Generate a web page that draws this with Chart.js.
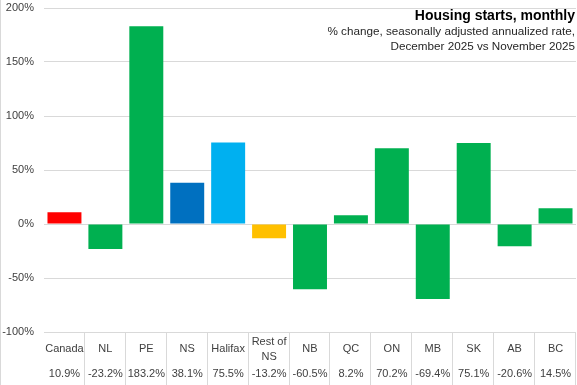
<!DOCTYPE html>
<html>
<head>
<meta charset="utf-8">
<script src="https://cdn.jsdelivr.net/npm/chart.js@4/dist/chart.umd.min.js"></script>
<style>
html,body{margin:0;padding:0;background:#fff;}
#wrap{position:relative;width:577px;height:385px;}
</style>
</head>
<body>
<div id="wrap"><canvas id="c" width="577" height="385"></canvas></div>
<script>
const categories = ["Canada","NL","PE","NS","Halifax","Rest of NS","NB","QC","ON","MB","SK","AB","BC"];
const categoryLines = [["Canada"],["NL"],["PE"],["NS"],["Halifax"],["Rest of","NS"],["NB"],["QC"],["ON"],["MB"],["SK"],["AB"],["BC"]];
const values = [10.9,-23.2,183.2,38.1,75.5,-13.2,-60.5,8.2,70.2,-69.4,75.1,-20.6,14.5];
const valueLabels = ["10.9%","-23.2%","183.2%","38.1%","75.5%","-13.2%","-60.5%","8.2%","70.2%","-69.4%","75.1%","-20.6%","14.5%"];
const barColors = ["#FF0000","#00B050","#00B050","#0070C0","#00B0F0","#FFC000","#00B050","#00B050","#00B050","#00B050","#00B050","#00B050","#00B050"];
const titleText = "Housing starts, monthly";
const subtitleLines = ["% change, seasonally adjusted annualized rate,","December 2025 vs November 2025"];

const FONT = "'Liberation Sans', Arial, sans-serif";

const tablePlugin = {
  id: 'tablePlugin',
  afterDraw(chart) {
    const ctx = chart.ctx;
    const x = chart.scales.x;
    const area = chart.chartArea;
    const n = categories.length;
    const w = (area.right - area.left) / n;
    ctx.save();
    ctx.strokeStyle = '#d9d9d9';
    ctx.lineWidth = 1;
    for (let i = 1; i <= n; i++) {
      const px = Math.round(x.getPixelForValue(i - 1) + w / 2) - 0.5;
      ctx.beginPath();
      ctx.moveTo(px, area.bottom);
      ctx.lineTo(px, chart.height);
      ctx.stroke();
    }
    ctx.beginPath();
    ctx.moveTo(0.5, 0);
    ctx.lineTo(0.5, chart.height);
    ctx.stroke();
    ctx.fillStyle = '#404040';
    ctx.font = '11px ' + FONT;
    ctx.textAlign = 'center';
    ctx.textBaseline = 'middle';
    for (let i = 0; i < n; i++) {
      const cx = x.getPixelForValue(i);
      const lines = categoryLines[i];
      if (lines.length === 1) {
        ctx.fillText(lines[0], cx, area.bottom + 17);
      } else {
        ctx.fillText(lines[0], cx, area.bottom + 10);
        ctx.fillText(lines[1], cx, area.bottom + 25);
      }
      ctx.fillText(valueLabels[i], cx, area.bottom + 42);
    }
    ctx.textAlign = 'right';
    ctx.fillStyle = '#000';
    ctx.font = 'bold 14px ' + FONT;
    ctx.fillText(titleText, chart.width - 2, 16);
    ctx.fillStyle = '#262626';
    ctx.font = '11.7px ' + FONT;
    ctx.fillText(subtitleLines[0], chart.width - 2, 32);
    ctx.fillText(subtitleLines[1], chart.width - 2, 47);
    ctx.restore();
  }
};

new Chart(document.getElementById('c'), {
  type: 'bar',
  data: {
    labels: categories,
    datasets: [{
      data: values,
      backgroundColor: barColors,
      borderWidth: 0,
      barPercentage: 0.83,
      categoryPercentage: 1.0
    }]
  },
  options: {
    responsive: false,
    animation: false,
    events: [],
    layout: { padding: { top: 0, bottom: 53, left: 0, right: 1 } },
    plugins: { legend: { display: false }, tooltip: { enabled: false }, title: { display: false } },
    scales: {
      x: {
        display: true,
        grid: { display: false, drawTicks: false },
        border: { display: false },
        ticks: { display: false }
      },
      y: {
        min: -100, max: 200,
        afterFit(s) { s.width = 44; s.paddingTop = 8; },
        grid: { color: '#d9d9d9', lineWidth: 1, drawTicks: false },
        border: { display: false },
        ticks: {
          stepSize: 50,
          padding: 10,
          color: '#404040',
          font: { family: FONT, size: 11 },
          callback: v => v + '%'
        }
      }
    }
  },
  plugins: [tablePlugin]
});
</script>
</body>
</html>
